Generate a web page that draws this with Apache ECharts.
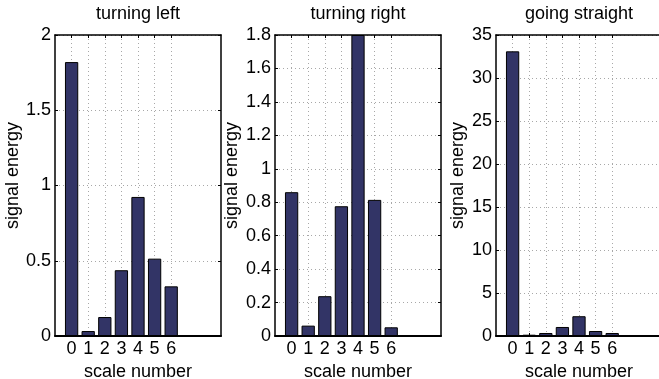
<!DOCTYPE html>
<html>
<head>
<meta charset="utf-8">
<script src="https://cdn.jsdelivr.net/npm/echarts@6/dist/echarts.min.js"></script>
<style>
  html, body { margin: 0; padding: 0; background: #fff; }
  #chart { width: 659px; height: 379px; }
</style>
</head>
<body>
<div id="chart"></div>
<script>
// scale numbers on the x axis
const scaleNumbers = [0, 1, 2, 3, 4, 5, 6];

// signal energy per scale, one array per panel
const turningLeft = [1.82, 0.033, 0.126, 0.437, 0.924, 0.514, 0.33];
const turningRight = [0.86, 0.062, 0.238, 0.776, 1.8, 0.814, 0.052];
const goingStraight = [33.1, 0.15, 0.35, 1.05, 2.3, 0.58, 0.35];

const panelTitles = ['turning left', 'turning right', 'going straight'];
const yMaxes = [2, 1.8, 35];
const yIntervals = [0.5, 0.2, 5];
const xRange = [-1, 9];

(function (global) {

	const font = '"Liberation Sans", Arial, Helvetica, sans-serif';
	const panels = [turningLeft, turningRight, goingStraight];

	// layout of the three axes boxes (px)
	const boxLefts = [55, 275, 496];
	const boxWidth = 166;
	const boxTop = 35;
	const boxHeight = 301;
	const yNameGaps = [31, 34, 29];

	const barWidth = boxWidth / (xRange[1] - xRange[0]) * 0.8;

	const gridLine = { show: true, lineStyle: { color: '#a8a8a8', width: 1, type: [1, 3] } };

	let grids = [], xAxes = [], yAxes = [], series = [], titles = [];

	panels.forEach(function (values, i) {

		grids.push({
			left: boxLefts[i], top: boxTop, width: boxWidth, height: boxHeight,
			containLabel: false, outerBoundsMode: 'none'
		});

		titles.push({
			text: panelTitles[i],
			left: boxLefts[i] + boxWidth / 2,
			top: 5,
			padding: 0,
			textAlign: 'center',
			textStyle: { fontFamily: font, fontSize: 18, fontWeight: 'normal', color: '#000' }
		});

		/*------------------------------- bottom / left axes -------------------------------*/

		xAxes.push({
			type: 'value', gridIndex: i, position: 'bottom',
			min: xRange[0], max: xRange[1], interval: 1,
			axisLine: { show: true, onZero: false, lineStyle: { color: '#000', width: 2 } },
			axisTick: { show: true, inside: true, length: 3, customValues: scaleNumbers, lineStyle: { color: '#000' } },
			axisLabel: { show: true, customValues: scaleNumbers, margin: 4, fontFamily: font, fontSize: 18, color: '#000' },
			splitLine: gridLine,
			name: 'scale number', nameLocation: 'middle', nameGap: 21,
			nameTextStyle: { fontFamily: font, fontSize: 18, color: '#000' }
		});

		yAxes.push({
			type: 'value', gridIndex: i, position: 'left',
			min: 0, max: yMaxes[i], interval: yIntervals[i],
			axisLine: { show: true, onZero: false, lineStyle: { color: '#000', width: 1.5 } },
			axisTick: { show: true, inside: true, length: 3, lineStyle: { color: '#000' } },
			axisLabel: { show: true, margin: 4, fontFamily: font, fontSize: 18, color: '#000' },
			splitLine: gridLine,
			name: 'signal energy', nameLocation: 'middle', nameGap: yNameGaps[i],
			nameTextStyle: { fontFamily: font, fontSize: 18, color: '#000', padding: [0, 0, 0, 20] }
		});

		/*------------------------------- top / right mirror axes (box) -------------------------------*/

		xAxes.push({
			type: 'value', gridIndex: i, position: 'top',
			min: xRange[0], max: xRange[1], interval: 1,
			axisLine: { show: true, onZero: false, lineStyle: { color: '#000', width: 1.5 } },
			axisTick: { show: true, inside: true, length: 3, customValues: scaleNumbers, lineStyle: { color: '#000' } },
			axisLabel: { show: false },
			splitLine: { show: false }
		});

		yAxes.push({
			type: 'value', gridIndex: i, position: 'right',
			min: 0, max: yMaxes[i], interval: yIntervals[i],
			axisLine: { show: true, onZero: false, lineStyle: { color: '#000', width: 1.5 } },
			axisTick: { show: true, inside: true, length: 3, lineStyle: { color: '#000' } },
			axisLabel: { show: false },
			splitLine: { show: false }
		});

		series.push({
			type: 'bar',
			xAxisIndex: i * 2,
			yAxisIndex: i * 2,
			barWidth: barWidth,
			data: scaleNumbers.map(function (s, k) { return [s, values[k]]; }),
			itemStyle: { color: '#323466', borderColor: '#000', borderWidth: 1 },
			emphasis: { disabled: true },
			animation: false
		});
	});

	const chart = echarts.init(document.getElementById('chart'), null, { renderer: 'canvas' });
	chart.setOption({
		animation: false,
		backgroundColor: '#fff',
		title: titles,
		grid: grids,
		xAxis: xAxes,
		yAxis: yAxes,
		series: series
	});

})(window);
</script>
</body>
</html>
